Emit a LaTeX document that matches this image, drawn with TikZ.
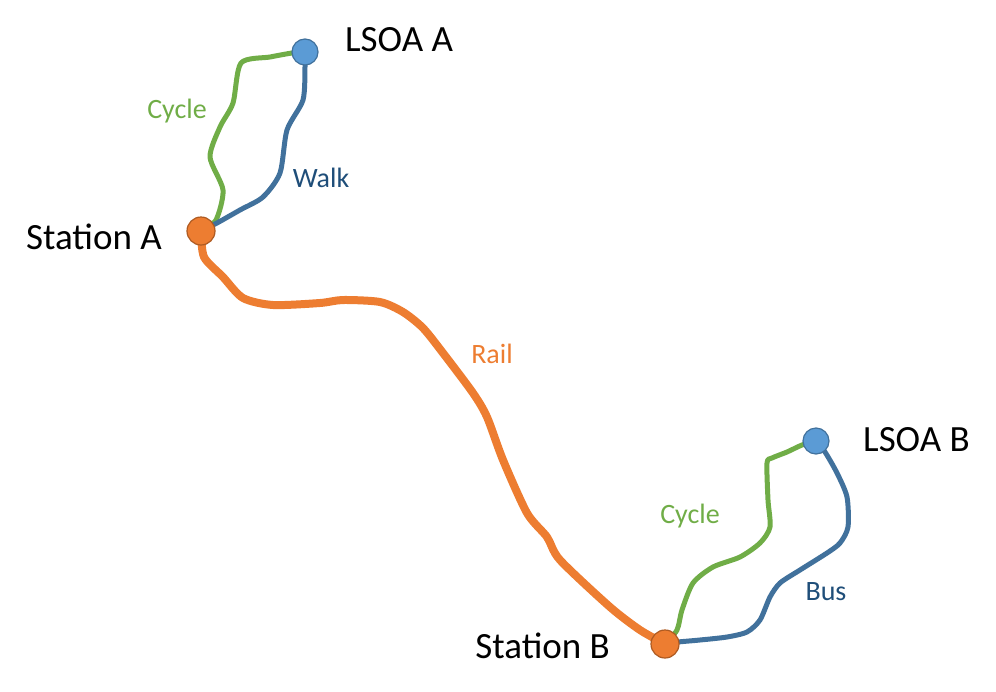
\documentclass[tikz,border=0pt]{standalone}
\usepackage{fontspec}
\setmainfont{Carlito}
\usetikzlibrary{backgrounds}
\definecolor{stopblue}{HTML}{5B9BD5}
\definecolor{stopblueline}{HTML}{41719C}
\definecolor{stoporange}{HTML}{ED7D31}
\definecolor{stoporangeline}{HTML}{AE5A21}
\definecolor{cyclegreen}{HTML}{70AD47}
\definecolor{walkblue}{HTML}{41719C}
\definecolor{walktext}{HTML}{1F4E79}
\begin{document}
\begin{tikzpicture}[x=1pt,y=-1pt]
        \tikzstyle{lsoa}=[circle,fill=stopblue,draw=stopblueline,line width=1.2pt,minimum size=26pt,inner sep=0pt]
        \tikzstyle{station}=[circle,fill=stoporange,draw=stoporangeline,line width=1.2pt,minimum size=28pt,inner sep=0pt]
        \tikzstyle{place}=[font=\fontsize{37}{44}\selectfont,inner sep=0pt]
        \tikzstyle{mode}=[font=\fontsize{28}{34}\selectfont,inner sep=0pt]
        \tikzstyle{cyclepath}=[draw=cyclegreen,line width=5pt,line cap=round,line join=round]
        \tikzstyle{walkpath}=[draw=walkblue,line width=5pt,line cap=round,line join=round]
        \tikzstyle{railpath}=[draw=stoporange,line width=8pt,line cap=round,line join=round]
        \useasboundingbox (0,0) rectangle (996,691);
        % stops
        \node[lsoa] (lsoaA) at (305,52) {};
        \node[station] (stationA) at (201,231) {};
        \node[lsoa] (lsoaB) at (816,441) {};
        \node[station] (stationB) at (665,644) {};
        % names
        \node[place,anchor=west] (lsoaAname) at (345,40) {LSOA A};
        \node[place,anchor=east] (stationAname) at (162,237) {Station A};
        \node[place,anchor=west] (lsoaBname) at (863,440) {LSOA B};
        \node[place,anchor=east] (stationBname) at (610,646) {Station B};
        % modes
        \node[mode,text=cyclegreen] (cycleA) at (177,111) {Cycle};
        \node[mode,text=walktext] (walkA) at (321,178) {Walk};
        \node[mode,text=stoporange] (rail) at (492,354) {Rail};
        \node[mode,text=cyclegreen] (cycleB) at (690,516) {Cycle};
        \node[mode,text=walktext] (busB) at (826,592) {Bus};
        \begin{pgfonlayer}{background}
        \draw[cyclepath] plot[smooth,tension=0.45] coordinates {(stationA.center) (216,220) (223,190) (210,157) (220,127) (233,103) (241,63) (270,57) (292,53) (lsoaA.center)};
        \draw[walkpath] plot[smooth,tension=0.45] coordinates {(lsoaA.center) (305,67) (303,100) (287,130) (280,173) (263,197) (240,210) (217,223) (stationA.center)};
        \draw[railpath] plot[smooth,tension=0.45] coordinates {(stationA.center) (204,257) (223,277) (243,298) (273,305) (320,303) (343,300) (380,302) (403,312) (423,328) (443,353) (473,393) (487,417) (503,460) (527,513) (547,537) (560,560) (610,607) (640,630) (stationB.center)};
        \draw[cyclepath] plot[smooth,tension=0.45] coordinates {(stationB.center) (677,630) (682,610) (693,583) (713,567) (740,557) (760,543) (770,527) (768,500) (767,463) (772,458) (787,452) (802,445) (lsoaB.center)};
        \draw[walkpath] plot[smooth,tension=0.45] coordinates {(lsoaB.center) (825,452) (837,473) (847,497) (848,527) (840,543) (827,553) (800,570) (780,583) (770,597) (760,620) (747,632) (727,637) (700,640) (678,642) (stationB.center)};
        \end{pgfonlayer}
    \end{tikzpicture}
\end{document}
